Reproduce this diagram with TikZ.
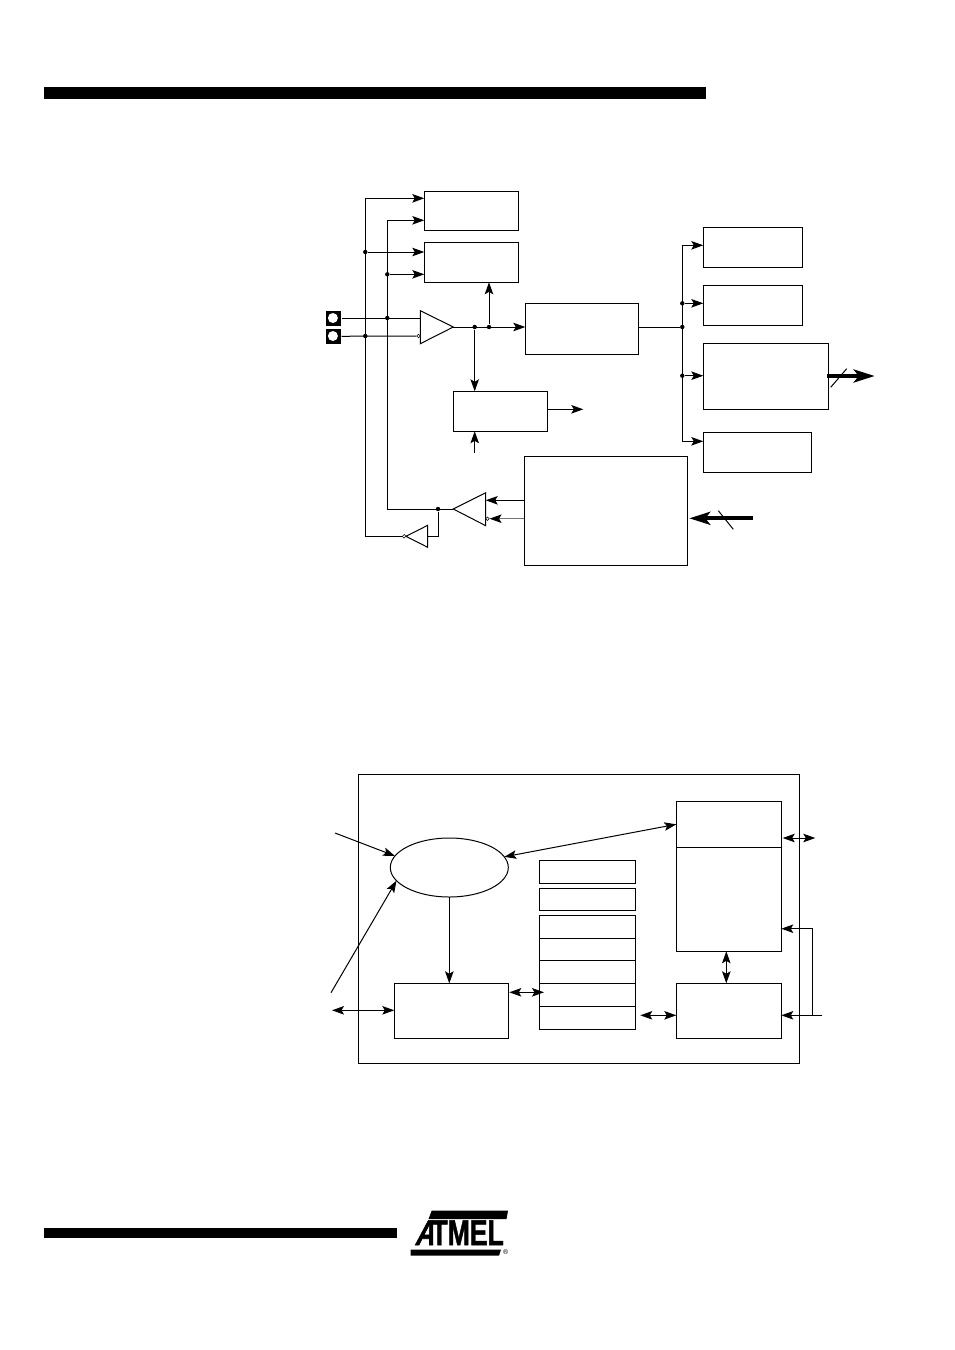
\documentclass[tikz,border=0pt]{standalone}
\usepackage{fontspec}
\newfontfamily\logofont{Liberation Sans Bold}[FakeBold=1.5]
\newfontfamily\logoslant{Liberation Sans Bold}[FakeSlant=.35, FakeBold=1.5]
\newfontfamily\markfont{Liberation Sans}
\usepackage{tikz}
\usetikzlibrary{positioning,arrows.meta,shapes.geometric}

\begin{document}
\begin{tikzpicture}[
  x=1pt, y=-1pt,
  line width=1pt,
  block/.style={draw, rectangle, anchor=north west, outer sep=0pt, inner sep=0pt},
  regcell/.style={block, minimum width=96pt, minimum height=23pt},
  junction/.style={circle, fill=black, inner sep=0pt, minimum size=4.4pt},
  bubble/.style={circle, draw, fill=white, line width=.5pt, inner sep=0pt, minimum size=3.6pt},
  padnode/.style={rectangle, fill=black, inner sep=0pt, minimum width=15pt, minimum height=15pt},
  padhole/.style={circle, fill=white, inner sep=0pt, minimum size=10pt},
  barnode/.style={rectangle, fill=black, anchor=north west, outer sep=0pt, inner sep=0pt},
  signal/.style={-{Stealth[length=12pt, width=8.5pt, inset=2.5pt, color=black]}},
  duplex/.style={{Stealth[length=12pt, width=8.5pt, inset=2.5pt]}-{Stealth[length=12pt, width=8.5pt, inset=2.5pt]}},
  widebus/.style={line width=3.8pt, -{Stealth[length=21pt, width=13pt, inset=5pt]}}
]
  \useasboundingbox (0,0) rectangle (954,1350);

  \node[barnode, minimum width=662pt, minimum height=12pt] (headbar) at (44,87) {};
  \node[barnode, minimum width=353pt, minimum height=10pt] (footbar) at (44,1227.5) {};

  \node[block, minimum width=94pt, minimum height=39pt] (blocknode0) at (424.3,191.3) {};
  \node[block, minimum width=94pt, minimum height=40pt] (blocknode1) at (424.3,242.3) {};
  \node[block, minimum width=113pt, minimum height=51pt] (blocknode2) at (525.3,303.3) {};
  \node[block, minimum width=94.4pt, minimum height=40pt] (blocknode3) at (453.3,391.3) {};
  \node[block, minimum width=163pt, minimum height=109pt] (blocknode4) at (524.3,456.3) {};
  \node[block, minimum width=99pt, minimum height=40pt] (blocknode5) at (703.3,227.3) {};
  \node[block, minimum width=99pt, minimum height=40pt] (blocknode6) at (703.3,285.3) {};
  \node[block, minimum width=125pt, minimum height=66pt] (blocknode7) at (703.3,343.3) {};
  \node[block, minimum width=108pt, minimum height=40pt] (blocknode8) at (703.3,432.3) {};

  \node[padnode] (padnode0) at (333.5,318) {};
  \node[padnode] (padnode1) at (333.5,336.3) {};
  \node[padhole] (padhole0) at (332.9,318) {};
  \node[padhole] (padhole1) at (332.9,336) {};

  \coordinate (ampin0) at (420.3,318);
  \coordinate (amptip) at (453.3,327);
  \coordinate (drvtip) at (453.3,509);
  \coordinate (invbase) at (427.7,536.3);
  \draw (420.3,310.7) -- (amptip) -- (420.3,343.7) -- cycle;
  \draw (485.7,492.7) -- (drvtip) -- (485.7,525.7) -- cycle;
  \draw (invbase |- 0,525.3) -- (406,536.3) -- (invbase |- 0,547.3) -- cycle;
  \node[bubble] (ampbubble) at (418.5,336) {};
  \node[bubble] (drvbubble) at (487.5,518.7) {};
  \node[bubble] (invbubble) at (404.2,536.3) {};

  \node[junction] (raildot0) at (365.3,252) {};
  \node[junction] (raildot1) at (387.3,274.3) {};
  \node[junction] (raildot2) at (387.3,318) {};
  \node[junction] (raildot3) at (365.3,336) {};
  \node[junction] (ampdot0) at (474.7,327) {};
  \node[junction] (ampdot1) at (489,327) {};
  \node[junction] (drvdot) at (438,509) {};
  \node[junction] (busdot0) at (682.3,303.3) {};
  \node[junction] (busdot1) at (682.3,327) {};
  \node[junction] (busdot2) at (682.3,375.7) {};

  \coordinate (railatop) at (365.3,198.3);
  \coordinate (railabot) at (365.3,536.3);
  \coordinate (railbtop) at (387.3,220.3);
  \coordinate (railbbot) at (387.3,509);
  \coordinate (bustop) at (682.3,245.3);
  \coordinate (busbot) at (682.3,441.3);
  \coordinate (outend) at (583.3,409.3);
  \coordinate (inend) at (474.7,452.7);
  \coordinate (wideout) at (874.7,376);
  \coordinate (widein) at (752.7,518.3);

  \draw[signal] (invbubble) -- (railabot) -- (railatop) -- (railatop -| blocknode0.west);
  \draw[signal] (drvtip) -- (railbbot) -- (railbtop) -- (railbtop -| blocknode0.west);
  \draw[signal] (raildot0) -- (raildot0 -| blocknode1.west);
  \draw[signal] (raildot1) -- (raildot1 -| blocknode1.west);
  \draw (padnode0) -- (ampin0);
  \draw (padnode1) -- (ampbubble);
  \draw[signal] (amptip) -- (amptip -| blocknode2.west);
  \draw[signal] (ampdot1) -- (ampdot1 |- blocknode1.south);
  \draw[signal] (ampdot0) -- (ampdot0 |- blocknode3.north);
  \draw[signal] (outend -| blocknode3.east) -- (outend);
  \draw[signal] (inend) -- (inend |- blocknode3.south);
  \draw[signal] (blocknode4.west |- 0,500.3) -- (485.7,500.3);
  \draw[signal, draw=black!55] (blocknode4.west |- drvbubble) -- (drvbubble);
  \draw (drvdot) -- (drvdot |- invbase) -- (invbase);
  \draw (blocknode2.east |- busdot1) -- (busdot1);
  \draw[signal] (bustop) -- (bustop -| blocknode5.west);
  \draw[signal] (bustop) -- (busbot) -- (busbot -| blocknode8.west);
  \draw[signal] (busdot0) -- (busdot0 -| blocknode6.west);
  \draw[signal] (busdot2) -- (busdot2 -| blocknode7.west);
  \draw[widebus] (827,376) -- (wideout);
  \draw (830.7,387.3) -- (846.7,368.7);
  \draw[widebus] (widein) -- (689.3,518.3);
  \draw (718.3,510.7) -- (733.3,529.3);

  \node[block, minimum width=441pt, minimum height=289pt] (framenode) at (358.3,774.3) {};
  \node[draw, ellipse, outer sep=0pt, inner sep=0pt, minimum width=118pt, minimum height=59pt] (ellipsenode) at (449.3,867.5) {};
  \node[block, minimum width=114pt, minimum height=55pt] (ctrlnode) at (394.3,983.3) {};
  \node[block, minimum width=105pt, minimum height=46pt] (memnode0) at (676.3,801.3) {};
  \node[block, minimum width=105pt, minimum height=104pt, below=0pt of memnode0.south west, anchor=north west] (memnode1) {};
  \node[block, minimum width=105pt, minimum height=55pt] (memnode2) at (676.3,983.3) {};
  \node[regcell] (regnode0) at (539.3,860.3) {};
  \node[regcell, minimum height=22pt] (regnode1) at (539.3,888.3) {};
  \node[regcell] (regnode2) at (539.3,915.3) {};
  \node[regcell, minimum height=22pt, below=0pt of regnode2.south west, anchor=north west] (regnode3) {};
  \node[regcell, below=0pt of regnode3.south west, anchor=north west] (regnode4) {};
  \node[regcell, below=0pt of regnode4.south west, anchor=north west] (regnode5) {};
  \node[regcell, below=0pt of regnode5.south west, anchor=north west] (regnode6) {};

  \coordinate (irqin0) at (335,833);
  \coordinate (irqin1) at (331,992.7);
  \coordinate (leftio) at (332,1010.3);
  \coordinate (rightio) at (815.3,838);
  \coordinate (clkin) at (822.3,1015.3);
  \coordinate (clktee) at (812.3,1015.3);
  \coordinate (clktop) at (812.3,928.7);

  \draw[signal] (irqin0) -- (ellipsenode.168);
  \draw[signal] (irqin1) -- (ellipsenode.194);
  \draw[duplex] (ellipsenode.11) -- (memnode0.west |- 0,824.3);
  \draw[signal] (ellipsenode.south) -- (ellipsenode.south |- ctrlnode.north);
  \draw[duplex] (leftio) -- (leftio -| ctrlnode.west);
  \draw[duplex] (509.3,992.3) -- (544,992.3);
  \draw[duplex] (640.3,1015.3) -- (memnode2.west |- 0,1015.3);
  \draw[duplex] (memnode1.south -| 726.3,0) -- (memnode2.north -| 726.3,0);
  \draw[duplex] (782.7,838) -- (rightio);
  \draw[signal] (clkin) -- (clkin -| memnode2.east);
  \draw[signal] (clktee) -- (clktop) -- (clktop -| memnode1.east);

  \fill (431.7,1210.7) -- (508,1210.7) -- (506.5,1219) -- (428.5,1219) -- cycle;
  \fill (410.7,1249.5) -- (501,1249.5) -- (499,1255.5) -- (410.7,1255.5) -- cycle;
  \node[inner sep=0pt, anchor=south west] (logoname) at (414,1245.5) {\fontsize{35pt}{35pt}\selectfont\scalebox{.76}[1.02]{\logoslant A\kern-3pt\logofont TMEL}};
  \node[inner sep=0pt] (logomark) at (505.7,1252) {\markfont\fontsize{7pt}{7pt}\selectfont\textregistered};
\end{tikzpicture}
\end{document}
